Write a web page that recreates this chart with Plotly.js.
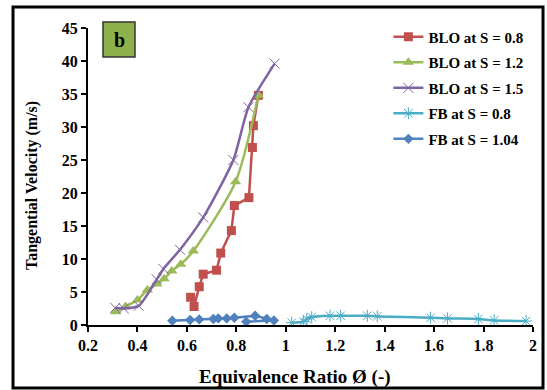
<!DOCTYPE html>
<html><head><meta charset="utf-8">
<script src="https://cdn.plot.ly/plotly-3.0.1.min.js"></script>
<style>html,body{margin:0;padding:0;background:#fff}#c{width:547px;height:390px}</style>
</head><body><div id="c"></div>
<script>
const names = ["BLO at S = 0.8","BLO at S = 1.2","BLO at S = 1.5","FB at S = 0.8","FB at S = 1.04"];
const blo08_x = [0.615,0.629,0.650,0.666,0.720,0.737,0.780,0.792,0.851,0.865,0.869,0.889];
const blo08_y = [4.2,2.8,5.8,7.7,8.3,10.9,14.3,18.1,19.3,26.9,30.2,34.8];
const blo12_x = [0.312,0.352,0.40,0.440,0.478,0.508,0.539,0.575,0.626,0.797,0.889];
const blo12_y = [2.0,2.8,3.8,5.3,6.2,7.0,8.2,9.2,11.2,21.7,34.8];
const blo15_x = [0.310,0.345,0.405,0.478,0.505,0.572,0.666,0.788,0.849,0.955];
const blo15_y = [2.6,2.5,2.9,6.9,8.5,11.4,16.3,25.0,33.0,39.6];
const fb08_x = [1.024,1.071,1.085,1.105,1.179,1.222,1.330,1.370,1.586,1.654,1.779,1.843,1.972];
const fb08_y = [0.35,0.5,0.9,1.2,1.4,1.4,1.4,1.3,1.1,1.0,0.9,0.7,0.6];
const fb104_x = [0.541,0.613,0.650,0.707,0.727,0.761,0.792,0.876,0.923,0.952,0.840];
const fb104_y = [0.65,0.75,0.85,0.9,1.0,1.0,1.1,1.4,0.9,0.7,0.5];
const xTicks = [0.2,0.4,0.6,0.8,1,1.2,1.4,1.6,1.8,2];
const xTickText = ["0.2","0.4","0.6","0.8","1","1.2","1.4","1.6","1.8","2"];
const yTicks = [0,5,10,15,20,25,30,35,40,45];

const colors = ["#C0504D","#9BBB59","#8064A2","#4BACC6","#4F81BD"];
const F = "Liberation Serif, Times New Roman, serif";
const traces = [
  {x:blo08_x,y:blo08_y,name:names[0],mode:"lines+markers",line:{color:colors[0],width:2.5},marker:{symbol:"square",size:9,color:colors[0]}},
  {x:blo12_x,y:blo12_y,name:names[1],mode:"lines+markers",line:{color:colors[1],width:2.5,shape:"spline",smoothing:0.7},marker:{symbol:"triangle-up",size:10,color:colors[1]}},
  {x:blo15_x,y:blo15_y,name:names[2],mode:"lines+markers",line:{color:colors[2],width:2.5,shape:"spline",smoothing:0.6},marker:{symbol:"x-thin-open",size:10,color:colors[2],line:{color:colors[2],width:1}}},
  {x:fb08_x,y:fb08_y,name:names[3],mode:"lines+markers",line:{color:colors[3],width:2.5,shape:"spline",smoothing:0.7},marker:{symbol:"asterisk-open",size:10,color:colors[3],line:{color:colors[3],width:1}}},
  {x:fb104_x,y:fb104_y,name:names[4],mode:"lines+markers",line:{color:colors[4],width:2.5},marker:{symbol:"diamond",size:8,color:colors[4]}}
].map((t,i)=>Object.assign(t,{legendgroup:"g"+i,type:"scatter"}));

const layout = {
  width:547,height:390,
  margin:{l:88,r:14,t:28,b:65},
  paper_bgcolor:"#fff",plot_bgcolor:"#fff",
  font:{family:F,size:14,color:"#000"},
  showlegend:true,
  legend:{x:0.675,y:1.025,xanchor:"left",yanchor:"top",font:{family:F,size:15,weight:"bold",color:"#000"},tracegroupgap:3,bgcolor:"rgba(0,0,0,0)"},
  xaxis:{range:[0.2,2],tickvals:xTicks,ticktext:xTickText,showgrid:false,zeroline:false,showline:true,linecolor:"#000",linewidth:2,ticks:"outside",ticklen:5,tickwidth:2,tickcolor:"#000",
    tickfont:{family:F,size:16,weight:"bold"}},
  yaxis:{range:[0,45],tickvals:yTicks,showgrid:false,zeroline:false,showline:true,linecolor:"#000",linewidth:2,ticks:"outside",ticklen:5,tickwidth:2,tickcolor:"#000",
    tickfont:{family:F,size:16,weight:"bold"}},
  shapes:[
    {type:"rect",xref:"paper",yref:"paper",x0:-0.1685,x1:1.0225,y0:-0.212,y1:1.0707,line:{color:"#000",width:3},fillcolor:"rgba(0,0,0,0)"},
    {type:"rect",xref:"paper",yref:"paper",x0:0.0337,x1:0.1056,y0:0.902,y1:1.0202,line:{color:"#333",width:1.5},fillcolor:"#8DB24C"}
  ],
  annotations:[
    {xref:"paper",yref:"paper",x:0.0697,y:0.961,text:"b",showarrow:false,font:{family:F,size:20,weight:"bold",color:"#000"},xanchor:"center",yanchor:"middle"},
    {xref:"paper",yref:"paper",x:0.465,y:-0.175,text:"Equivalence Ratio Ø (-)",showarrow:false,font:{family:F,size:19,weight:"bold",color:"#000"},xanchor:"center",yanchor:"middle"},
    {xref:"paper",yref:"paper",x:-0.1258,y:0.468,text:"Tangential Velocity (m/s)",textangle:-90,showarrow:false,font:{family:F,size:16,weight:"bold",color:"#000"},xanchor:"center",yanchor:"middle"}
  ]
};
Plotly.newPlot("c",traces,layout,{displayModeBar:false,staticPlot:true});
</script></body></html>
